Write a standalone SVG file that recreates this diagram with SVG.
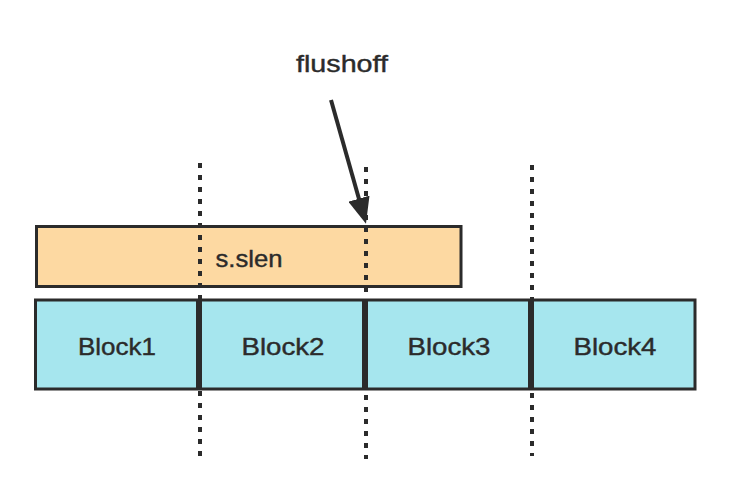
<svg xmlns="http://www.w3.org/2000/svg" width="734" height="500" viewBox="0 0 734 500">
  <style>
    .box { stroke: #2b2b2b; stroke-width: 3; }
    .slen { fill: #FDD9A2; }
    .blk { fill: #A6E6EE; }
    .lbl { font-family: "Liberation Sans", Arial, sans-serif; font-size: 24px; fill: #2b2b2b; stroke: #2b2b2b; stroke-width: 0.4; text-anchor: middle; }
    .dot { stroke: #2b2b2b; stroke-width: 4; stroke-dasharray: 5 7; fill: none; }
    .arrow { stroke: #2b2b2b; stroke-width: 4; fill: none; }
  </style>
  <defs>
    <marker id="ah" markerUnits="userSpaceOnUse" markerWidth="26" markerHeight="22" refX="4" refY="11" orient="auto">
      <path d="M0,0 L26,11 L0,22 z" fill="#2b2b2b"/>
    </marker>
  </defs>
  <rect width="734" height="500" fill="#ffffff"/>

  <g id="slen">
    <rect class="box slen" x="36.5" y="226.5" width="424.5" height="60"/>
    <text class="lbl" x="249" y="267" textLength="67" lengthAdjust="spacingAndGlyphs">s.slen</text>
  </g>

  <g id="block1">
    <rect class="box blk" x="35.5" y="300" width="162" height="89"/>
    <text class="lbl" x="117" y="355" textLength="78" lengthAdjust="spacingAndGlyphs">Block1</text>
  </g>
  <g id="block2">
    <rect class="box blk" x="200.5" y="300" width="163" height="89"/>
    <text class="lbl" x="283" y="355" textLength="83" lengthAdjust="spacingAndGlyphs">Block2</text>
  </g>
  <g id="block3">
    <rect class="box blk" x="366.5" y="300" width="163" height="89"/>
    <text class="lbl" x="449" y="355" textLength="83" lengthAdjust="spacingAndGlyphs">Block3</text>
  </g>
  <g id="block4">
    <rect class="box blk" x="532.5" y="300" width="162.5" height="89"/>
    <text class="lbl" x="615" y="355" textLength="83" lengthAdjust="spacingAndGlyphs">Block4</text>
  </g>

  <g id="flushoff">
    <text class="lbl" x="342" y="72" textLength="92" lengthAdjust="spacingAndGlyphs">flushoff</text>
  </g>

  <g id="connectors">
    <line class="dot" x1="200" y1="163" x2="200" y2="456"/>
    <line class="dot" x1="366" y1="167" x2="366" y2="459"/>
    <line class="dot" x1="532" y1="165" x2="532" y2="456"/>
    <line class="arrow" x1="331" y1="100" x2="360" y2="202.5" marker-end="url(#ah)"/>
  </g>
</svg>
